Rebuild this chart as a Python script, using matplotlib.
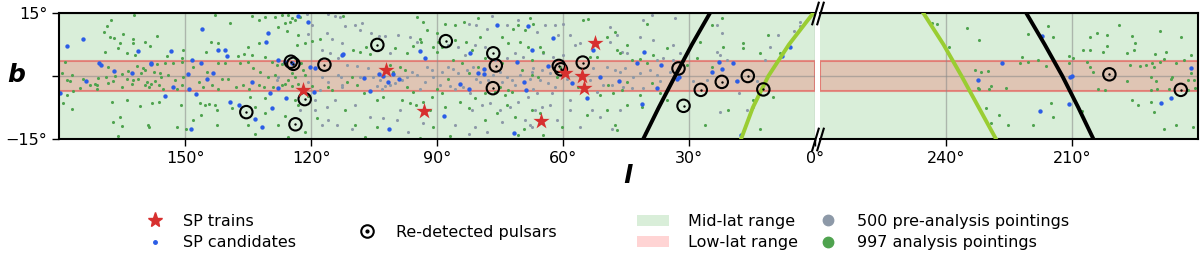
"""Sky map of the survey pointings, single-pulse candidates and re-detected pulsars."""

import matplotlib.pyplot as plt
import numpy as np
from matplotlib.lines import Line2D
from matplotlib.patches import Patch

plt.rcParams["font.family"] = ["DejaVu Sans"]
plt.rcParams["font.size"] = 11.5

# ---- data: galactic (l, b) in degrees ----
LOW_LAT = 3.5

train_pts = [(52.4, 7.8), (59.5, 0.8), (55.5, 0.0), (55.0, -2.9), (65.2, -10.6),
             (93.1, -8.4), (102.1, 1.4), (121.9, -3.4)]

psr_pts = [(135.4, -8.6), (123.7, -11.5), (124.8, 3.4), (124.2, 2.9), (116.8, 2.7),
           (121.5, -5.5), (104.2, 7.4), (87.9, 8.3), (76.6, 5.4), (76.0, 2.5),
           (76.7, -2.9), (61.0, 2.4), (60.5, 1.6), (55.3, 3.2), (32.5, 1.8),
           (31.3, -7.1), (27.2, -3.3), (22.2, -1.4), (16.0, 0.0), (12.3, -3.2),
           (201.1, 0.4), (184.1, -3.3)]

cand_pts = [(178.2, 7.1), (174.2, 8.8), (161.1, 6.0), (170.4, 3.0), (170.0, 2.6),
            (166.8, 1.2), (162.7, 0.8), (158.2, 2.8), (173.6, -1.1), (179.8, -4.1),
            (145.9, 11.1), (153.3, 5.9), (142.2, 6.2), (140.5, 6.3), (139.9, 4.8),
            (148.4, 3.8), (146.3, 3.0), (158.1, 3.0), (149.4, 0.4), (143.4, 0.8),
            (144.8, -0.6), (152.9, -2.7), (149.0, -3.2), (147.4, -4.3), (154.8, -4.8),
            (139.3, -6.3), (137.1, -6.9), (148.6, -12.5),
            (123.2, 14.3), (120.6, 12.9), (130.3, 10.3), (130.7, 8.2), (127.8, 3.8),
            (126.2, 3.4), (124.6, 3.0), (120.2, 2.2), (119.0, 1.8), (112.7, 5.0),
            (134.1, -1.4), (129.8, -4.0), (127.8, -2.9), (126.0, -5.2), (119.4, -3.7),
            (129.4, -7.7), (133.3, -10.3), (131.6, -12.1),
            (112.5, 5.2), (94.0, 5.9), (92.9, 4.4), (107.4, -0.4), (103.7, 0.4),
            (102.9, 0.1), (100.4, 0.5), (99.0, -0.6), (101.6, -1.4), (106.0, -3.5),
            (101.4, -12.5),
            (75.8, 12.1), (68.4, 11.9), (82.1, 5.4), (71.0, 3.4), (78.7, 1.6),
            (80.3, 0.6), (78.7, 0.4), (84.5, -1.8), (82.5, -3.0), (69.2, -1.4),
            (68.9, -3.3), (88.3, -9.5), (71.7, -13.5),
            (67.5, 6.3), (62.5, 9.1), (52.8, 6.3), (63.5, 2.4), (57.9, -1.6),
            (51.2, -0.2), (46.6, -1.1), (54.4, -5.3),
            (40.7, 5.6), (36.7, 2.6), (42.3, 3.2), (37.7, -2.8), (32.5, -0.2),
            (32.8, -0.6), (41.2, -6.7), (22.8, 3.4), (19.6, 3.0), (24.6, 1.0),
            (22.2, 1.6), (18.6, -1.2), (7.9, 4.8), (5.9, 7.0), (17.7, -14.0),
            (217.1, 9.5), (226.7, 3.0), (232.5, -1.0), (210.5, -0.2), (210.1, 0.0),
            (210.7, -6.7), (217.7, -8.3), (186.5, -5.2), (188.8, -6.5), (181.7, 1.8)]

pre_pts = [(121.0, 14.8), (115.9, 14.8), (114.3, 14.3), (113.1, 14.0), (119.8, 12.1),
           (120.8, 10.0), (116.3, 10.3), (114.9, 8.7), (112.7, 7.8), (117.5, 6.3),
           (115.5, 5.4), (113.5, 4.4), (127.8, -0.2), (128.2, -1.0), (120.6, -1.4),
           (117.5, -0.2), (115.9, -1.4), (113.5, 0.2), (112.7, -2.1), (117.9, -3.3),
           (119.0, -5.7), (116.3, -7.3), (115.9, -10.5), (117.5, -11.7), (113.9, -11.7),
           (119.0, -8.1), (114.3, -5.7), (112.9, -0.2), (122.6, -8.1),
           (111.9, 12.0), (109.5, 12.1), (107.9, 12.7), (108.3, 11.0), (105.6, 10.3),
           (103.7, 9.5), (102.4, 9.5), (99.2, 9.8), (96.4, 9.4), (94.8, 8.2),
           (104.0, 6.2), (101.2, 5.4), (111.5, 2.6), (109.1, 2.4), (108.3, -0.2),
           (106.4, 1.8), (105.2, -0.2), (103.6, -1.0), (104.4, -2.4), (103.2, -3.0),
           (102.4, -2.4), (101.2, -2.2), (100.0, -1.6), (98.4, -1.0), (97.2, -0.2),
           (96.0, 1.0), (94.8, 0.2), (92.5, 2.2), (91.3, 1.4), (90.9, -0.2),
           (92.9, -1.4), (94.1, -3.0), (109.5, -6.9), (106.0, -9.7), (102.8, -10.1),
           (98.8, -8.1), (99.6, -10.5), (93.3, -11.3), (96.8, -13.3), (110.3, -12.5),
           (112.7, -2.5),
           (77.0, 14.3), (82.5, 12.4), (80.6, 12.1), (78.2, 11.3), (73.4, 12.1),
           (70.6, 13.3), (87.3, 7.4), (84.9, 6.8), (81.0, 7.4), (78.6, 7.0),
           (83.3, 5.0), (76.2, 3.8), (73.4, 4.2), (71.4, 5.4), (69.5, 4.6),
           (88.9, 1.0), (87.3, 2.2), (86.1, 1.6), (84.9, 0.6), (82.9, 1.4),
           (81.4, 2.2), (80.6, -0.6), (77.8, -1.0), (76.6, 0.2), (75.0, 1.0),
           (74.6, -1.4), (73.4, -0.2), (72.2, -1.0), (71.4, -2.2), (70.2, 0.2),
           (67.9, -0.6), (67.5, 1.0), (89.3, -2.2), (86.9, -2.4), (85.7, -3.0),
           (83.7, -2.5), (82.1, -4.1), (79.8, -1.4), (81.7, -8.1), (79.4, -6.9),
           (77.4, -6.5), (75.0, -8.1), (72.6, -7.3), (70.6, -6.1), (68.3, -4.9),
           (85.7, -11.7), (81.0, -12.1), (74.6, -10.9), (69.1, -10.5), (67.9, -11.7),
           (82.5, -13.7), (78.2, -13.3),
           (64.3, 12.1), (61.9, 12.1), (59.9, 12.5), (66.3, 10.5), (61.1, 9.8),
           (58.3, 9.8), (57.1, 7.4), (56.0, 7.8), (64.7, 5.4), (62.3, 4.6),
           (59.9, 5.0), (48.8, 11.7), (47.2, 9.8), (48.8, 8.2), (46.0, 5.8),
           (44.8, 5.4), (67.1, 1.8), (65.1, 1.4), (63.1, 0.6), (65.5, -1.0),
           (63.5, -1.6), (61.9, -2.5), (59.1, -0.8), (52.8, 1.8), (49.6, 2.2),
           (47.6, 1.4), (46.4, 1.0), (45.2, 1.8), (53.6, -1.0), (50.4, -2.1),
           (48.4, -2.1), (45.6, -2.5), (67.1, -3.0), (66.3, -4.1), (62.7, -4.1),
           (58.3, -5.7), (52.0, -3.7), (66.7, -8.1), (65.1, -7.3), (63.1, -6.9),
           (58.3, -8.1), (56.0, -12.1), (53.2, -8.1), (51.2, -9.7), (48.4, -12.5),
           (46.4, -8.1), (67.5, -12.1), (61.5, -10.5),
           (40.9, 13.3), (38.9, 14.5), (33.3, 13.7), (41.7, 9.4), (38.5, 8.6),
           (43.3, -0.2), (41.7, 0.6), (39.3, 1.4), (37.7, 0.2), (36.9, -1.3),
           (36.1, 4.2), (34.5, 1.0), (33.7, 3.8), (40.9, -2.9), (43.6, -2.9),
           (40.5, -13.6), (23.4, 12.1), (22.2, 10.2), (23.4, 5.8), (22.6, 5.0),
           (21.0, 3.8), (18.8, -1.3), (18.2, -4.1), (13.9, -1.3), (11.9, 3.8),
           (10.7, 7.0), (8.7, 9.8), (5.1, 10.6), (3.6, 11.8), (3.6, 12.9),
           (16.3, -8.1), (25.8, -0.9), (29.0, -1.3), (14.7, -7.3), (22.6, -8.5),
           (33.7, 7.4), (32.1, 5.4), (37.7, 3.8)]

ana_pts = [(162.1, 14.5), (167.6, 13.3), (168.5, 12.0), (169.3, 10.4), (167.9, 9.4),
           (166.8, 9.0), (164.7, 9.9), (162.5, 8.7), (162.5, 7.9), (159.5, 8.2),
           (158.3, 7.2), (165.5, 7.8), (165.9, 6.6), (163.9, 5.4), (169.0, 5.6),
           (161.9, 5.0), (178.6, 3.4), (168.3, 2.1), (161.5, 2.4), (159.9, 1.8),
           (159.5, 1.4), (160.5, 0.8), (163.5, 1.3), (165.1, 0.4), (163.9, -0.6),
           (162.3, -1.0), (161.1, -0.8), (166.7, 0.0), (167.1, -1.2), (168.7, -0.2),
           (170.6, -0.4), (171.0, -2.2), (170.9, -3.0), (172.6, -2.2), (171.4, -1.8),
           (174.2, -0.6), (175.0, -2.8), (176.6, -3.6), (178.2, -1.0), (177.4, -1.1),
           (179.2, 0.6), (176.8, 0.2), (168.3, -1.6), (159.1, -1.4), (159.5, -2.2),
           (158.5, -2.6), (158.1, -1.8), (162.7, -1.8), (165.1, -2.7), (178.0, -4.5),
           (179.0, -6.4), (176.8, -7.9), (163.9, -5.7), (167.5, -6.1), (160.7, -7.1),
           (157.8, -6.4), (165.5, -9.7), (167.1, -11.0), (165.1, -11.8), (158.7, -11.7),
           (158.6, -12.2), (165.9, -14.3),
           (142.9, 14.5), (139.4, 12.7), (156.6, 9.5), (143.9, 8.0), (142.1, 7.8),
           (150.4, 6.2), (145.1, 5.8), (154.4, 4.8), (150.6, 4.4), (137.5, 4.8),
           (135.9, 5.2), (156.7, 2.9), (154.8, 3.0), (152.8, 3.2), (150.8, 3.4),
           (148.0, 2.1), (144.8, 1.0), (142.1, 3.0), (140.5, 3.0), (136.9, 3.0),
           (134.9, 3.4), (157.5, 1.0), (156.0, 0.6), (155.6, -0.2), (154.0, 0.2),
           (152.4, -1.0), (150.4, -0.2), (157.1, -1.1), (156.3, -2.2), (155.2, -3.0),
           (152.0, -3.2), (150.8, -2.2), (146.6, -1.4), (145.6, -2.5), (143.6, -2.2),
           (142.1, -3.0), (141.3, -0.6), (139.7, -0.6), (137.8, -2.5), (136.1, -2.2),
           (134.7, -3.2), (146.4, -6.5), (145.2, -6.8), (144.4, -6.7), (142.8, -6.9),
           (142.5, -8.0), (138.9, -7.5), (151.0, -6.9), (156.3, -6.1), (148.2, -10.5),
           (146.1, -9.3), (142.5, -11.7), (152.0, -12.2), (149.8, -12.6),
           (134.1, 14.3), (132.5, 13.3), (131.0, 14.1), (128.6, 14.0), (127.0, 14.5),
           (125.4, 14.5), (124.6, 13.7), (123.8, 13.3), (122.6, 14.1), (126.2, 12.7),
           (125.0, 12.9), (127.8, 11.7), (125.6, 10.8), (123.0, 9.8), (121.4, 7.8),
           (119.8, 8.4), (117.9, 8.7), (123.4, 7.4), (134.9, 7.0), (132.5, 7.8),
           (134.1, 5.0), (131.0, 4.6), (129.4, 3.4), (128.2, 2.6), (127.0, 2.9),
           (123.8, 4.2), (122.4, 3.2), (121.8, 1.4), (121.4, 0.2), (124.6, 0.6),
           (123.8, -0.2), (125.4, -1.0), (126.2, -1.8), (128.6, 0.2), (130.2, -0.2),
           (132.1, 1.0), (133.7, 1.8), (131.3, -2.5), (132.5, -2.2), (129.0, -2.5),
           (127.0, -2.1), (124.6, -2.4), (123.0, -1.8), (119.8, -2.4), (120.6, -4.8),
           (123.8, -5.7), (131.0, -5.3), (134.5, -4.9), (133.3, -7.3), (123.0, -6.9),
           (131.0, -8.9), (126.2, -9.5), (118.6, -10.1), (134.9, -11.7), (133.3, -13.7),
           (127.8, -11.7), (121.4, -13.3), (125.4, -14.5), (115.9, -2.5), (115.1, -3.3),
           (112.3, 14.3), (94.8, 14.1), (93.3, 12.9), (92.5, 10.9), (93.7, 8.2),
           (94.1, 8.7), (90.1, 10.2), (90.9, 7.0), (90.1, 5.8), (100.0, 6.7),
           (97.2, 5.5), (95.6, 7.1), (109.9, 6.3), (108.3, 5.8), (106.8, 6.8),
           (106.0, 5.2), (110.3, -0.2), (111.5, -1.4), (109.1, -2.2), (107.5, -4.1),
           (111.9, -8.0), (109.5, -11.7), (104.4, -5.7), (102.8, -4.9), (97.2, -2.7),
           (95.6, -3.7), (96.4, -6.5), (95.0, -6.8), (93.3, -6.1), (91.3, -5.1),
           (90.1, -3.2), (91.7, -8.1), (98.4, -5.7), (90.9, -12.1), (94.1, -14.8),
           (107.1, -14.5), (104.4, -12.2), (98.8, 2.2), (97.6, 1.4), (100.4, 1.0),
           (101.2, 2.6),
           (88.1, 12.5), (85.6, 12.1), (83.5, 12.9), (80.2, 13.7), (70.6, 12.1),
           (71.8, 11.3), (69.0, 10.9), (67.9, 13.7), (89.7, 8.2), (88.9, 7.0),
           (85.7, 8.6), (83.0, 8.2), (79.8, 9.4), (74.6, 9.4), (73.0, 7.8),
           (70.2, 8.2), (68.3, 7.0), (81.7, 6.2), (84.1, 3.0), (82.5, 0.6),
           (80.2, 2.2), (78.6, 4.2), (74.6, 3.0), (75.0, -2.5), (73.0, -3.3),
           (69.8, 1.4), (67.5, 3.8), (88.9, -4.1), (81.0, -5.3), (78.6, -4.1),
           (76.2, -3.7), (73.8, -4.5), (72.2, -3.7), (88.1, -7.3), (84.5, -6.1),
           (82.5, -7.7), (73.4, -6.9), (71.4, -9.7), (69.4, -12.5), (70.6, -14.1),
           (86.9, -14.3), (78.6, -10.5), (75.8, -8.9), (67.5, -8.1), (87.3, -0.6),
           (86.1, 3.8),
           (67.1, 12.5), (65.5, 7.0), (64.7, 5.8), (55.2, 13.3), (54.0, 13.5),
           (49.6, 9.4), (47.6, 10.5), (47.2, 6.2), (46.4, 5.4), (44.8, 7.4),
           (53.6, 4.6), (52.0, 4.6), (65.9, -0.2), (61.5, -0.2), (60.7, 2.2),
           (56.4, -2.5), (49.2, -2.1), (48.0, -4.1), (51.2, -4.5), (46.0, -3.3),
           (65.5, -8.9), (64.7, -14.1), (60.3, -12.1), (49.6, -8.1), (47.6, -11.7),
           (47.2, -12.9), (54.4, -9.3), (44.8, -6.9), (67.5, 0.2), (44.8, -1.4),
           (40.1, 12.5), (35.3, 6.6), (43.6, 3.7), (41.7, 4.0), (40.1, 3.0),
           (38.5, 5.0), (41.7, -4.5), (38.9, -1.7), (36.9, -4.1), (41.3, -7.3),
           (35.3, -5.7), (22.2, 13.7), (24.6, 12.1), (27.4, 8.2), (17.1, 7.8),
           (17.1, 6.6), (13.1, 5.4), (11.1, 9.8), (8.3, 5.4), (9.9, -4.9),
           (14.7, -5.7), (20.6, -8.1), (26.2, -11.7), (13.1, -12.5), (21.8, 7.0),
           (28.2, 4.2), (30.5, 2.6), (24.6, 2.2),
           (242.1, 12.5), (243.3, 12.7), (234.9, 11.4), (232.1, 8.6), (239.3, 7.0),
           (233.0, 1.4), (231.7, 1.0), (230.1, 1.2), (232.5, -2.9), (232.1, -3.2),
           (229.7, -3.2), (229.3, -2.4), (225.7, -2.9), (230.5, -7.7), (227.3, -9.3),
           (229.3, -11.1), (225.3, -11.7), (219.3, -11.7), (214.5, -9.7), (215.1, -6.5),
           (208.1, -8.5), (220.5, 10.0), (215.7, 11.9), (214.5, 9.4), (221.9, 4.6),
           (220.5, 3.4), (218.1, 3.8), (216.1, 2.4), (222.3, 3.2), (210.8, 4.8),
           (209.7, 4.2), (210.8, 3.2), (207.5, 6.2), (205.7, 6.2), (204.1, 10.3),
           (205.7, 9.4), (201.7, 9.8), (201.7, 7.1), (202.7, 5.8), (198.7, 12.1),
           (195.7, 9.5), (194.9, 7.9), (196.8, 5.4), (195.3, 6.2), (189.1, 10.8),
           (184.1, 9.4), (190.3, 5.2), (187.7, 5.8), (181.6, 5.0), (206.5, 3.4),
           (205.7, 2.2), (204.9, 1.0), (203.9, -3.2), (202.1, -3.3), (196.8, -1.3),
           (196.3, 2.6), (193.9, 2.4), (192.3, 2.6), (190.9, 3.0), (190.5, 2.2),
           (189.0, 3.4), (188.0, 4.0), (185.3, 3.2), (183.3, 3.8), (181.7, 0.8),
           (180.9, -1.0), (182.5, -1.0), (180.7, -2.9), (191.3, -0.2), (190.1, -1.3),
           (186.5, -0.6), (186.1, -0.2), (191.3, -3.3), (189.7, -3.2), (187.0, -3.2),
           (182.5, -3.4), (195.7, -5.7), (194.3, -6.9), (191.2, -6.1), (190.5, -8.6),
           (188.1, -12.5), (185.2, -11.7), (181.1, -12.1), (207.7, -8.3)]

# declination limits of the survey, traced through (l, b)
dec_lo_left = [(25.0, 15.0), (29.3, 7.5), (33.3, 0.0), (37.2, -7.5), (40.9, -15.0)]
dec_lo_right = [(220.9, 15.0), (216.5, 7.5), (212.3, 0.0), (208.5, -7.5), (204.9, -15.0)]
dec_hi_left = [(0.4, 15.0), (6.2, 7.5), (11.1, 0.0), (14.8, -7.5), (17.6, -15.0)]
dec_hi_right = [(245.4, 15.0), (240.6, 7.5), (236.3, 0.0), (232.2, -7.5), (228.1, -15.0)]

left_ticks = [150, 120, 90, 60, 30, 0]
right_ticks = [240, 210]

# ---- style ----
RED = "#d7302f"
BLUE = "#2b5de6"
DOT_GREEN = "#4fa34f"
DOT_GRAY = "#8d99a8"
MID_FILL = "#d9eed9"
LOW_FILL = (1.0, 0.0, 0.0, 0.17)
LOW_EDGE = (0.9, 0.25, 0.25, 0.55)
LINE_GREEN = "#9acd32"


def xy(pts):
    arr = np.array(pts, dtype=float)
    return arr[:, 0], arr[:, 1]


fig = plt.figure(figsize=(12, 2.54), dpi=100)
ax1 = fig.add_axes([59 / 1200, 115 / 254, 756 / 1200, 126 / 254])
ax2 = fig.add_axes([820 / 1200, 115 / 254, 378 / 1200, 126 / 254])

panels = [(ax1, (180, 0), left_ticks, dec_lo_left, dec_hi_left),
          (ax2, (270, 180), right_ticks, dec_lo_right, dec_hi_right)]

for ax, xlim, ticks, lo, hi in panels:
    ax.set_facecolor(MID_FILL)
    ax.axhspan(-LOW_LAT, LOW_LAT, facecolor=LOW_FILL, edgecolor=LOW_EDGE, lw=1.5, zorder=0.5)
    ax.set_xlim(*xlim)
    ax.set_ylim(-15, 15)
    ax.set_xticks(ticks)
    ax.set_xticklabels([f"{t}°" for t in ticks])
    ax.set_yticks([-15, 0, 15])
    ax.set_yticklabels(["−15°", "", "15°"])
    ax.grid(True, color="#888888", alpha=0.55, lw=1.0, zorder=0.8)
    ax.set_axisbelow(True)
    ax.tick_params(length=5, width=1.0)
    for sp in ax.spines.values():
        sp.set_linewidth(1.5)

    px, py = xy(pre_pts)
    ax.scatter(px, py, s=5, color=DOT_GRAY, lw=0, zorder=2)
    gx, gy = xy(ana_pts)
    ax.scatter(gx, gy, s=5, color=DOT_GREEN, lw=0, zorder=2.1)
    cx, cy = xy(cand_pts)
    ax.scatter(cx, cy, s=10, color=BLUE, lw=0, zorder=2.2)

    lx, ly = xy(lo)
    ax.plot(lx, ly, color="black", lw=2.8, zorder=3, solid_joinstyle="round")
    hx, hy = xy(hi)
    ax.plot(hx, hy, color=LINE_GREEN, lw=2.8, zorder=3, solid_joinstyle="round")

    rx, ry = xy(psr_pts)
    ax.scatter(rx, ry, s=80, facecolor="none", edgecolor="black", lw=1.5, zorder=4)
    ax.scatter(rx, ry, s=3, color="black", lw=0, zorder=4)
    tx, ty = xy(train_pts)
    ax.scatter(tx, ty, s=150, marker="*", color=RED, lw=0, zorder=5)

ax1.spines["right"].set_visible(False)
ax2.spines["left"].set_visible(False)
ax2.tick_params(left=False, labelleft=False)

# broken-axis marks
slash = dict(marker=[(-0.3, -1), (0.3, 1)], markersize=17, linestyle="none",
             color="black", mec="black", mew=1.5, clip_on=False, zorder=10)
ax1.plot([1, 1], [0, 1], transform=ax1.transAxes, **slash)
ax2.plot([0, 0], [0, 1], transform=ax2.transAxes, **slash)

fig.text(628 / 1200, 1 - 176 / 254, "l", fontsize=18, fontweight="bold", style="italic",
         ha="center", va="center")
fig.text(16 / 1200, 1 - 75 / 254, "b", fontsize=18, fontweight="bold", style="italic",
         ha="center", va="center")

# ---- legends ----
leg_kw = dict(frameon=False, fontsize=11.5, borderpad=0, borderaxespad=0,
              labelspacing=0.4, loc="center left", handlelength=2)
row_y = 1 - 232 / 254

h1 = [Line2D([], [], marker="*", color=RED, ms=11, ls=""),
      Line2D([], [], marker="o", color=BLUE, ms=2.5, ls="")]
fig.legend(h1, ["SP trains", "SP candidates"], bbox_to_anchor=(139 / 1200, row_y),
           handletextpad=0.75, **leg_kw)

h2 = [(Line2D([], [], marker="o", mfc="none", mec="black", mew=1.5, ms=9, ls=""),
       Line2D([], [], marker="o", color="black", ms=2, ls=""))]
fig.legend(h2, ["Re-detected pulsars"], bbox_to_anchor=(351 / 1200, row_y),
           handletextpad=0.8, **leg_kw)

h3 = [Patch(facecolor=MID_FILL, edgecolor="none"),
      Patch(facecolor=(1.0, 0.0, 0.0, 0.17), edgecolor="none")]
fig.legend(h3, ["Mid-lat range", "Low-lat range"], bbox_to_anchor=(637 / 1200, row_y),
           handletextpad=1.2, **leg_kw)

h4 = [Line2D([], [], marker="o", color=DOT_GRAY, ms=7.5, ls=""),
      Line2D([], [], marker="o", color=DOT_GREEN, ms=7.5, ls="")]
fig.legend(h4, ["500 pre-analysis pointings", "997 analysis pointings"],
           bbox_to_anchor=(812 / 1200, row_y), handletextpad=0.8, **leg_kw)

fig.savefig("out.png", dpi=100)
